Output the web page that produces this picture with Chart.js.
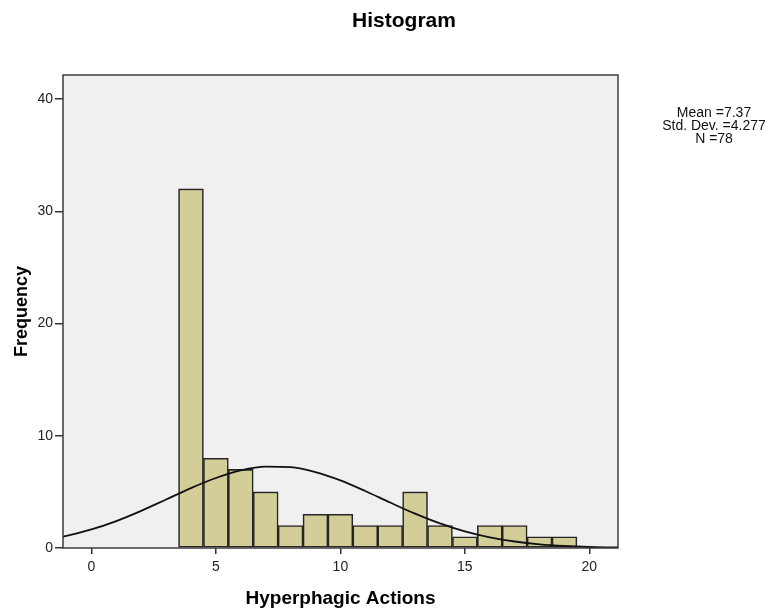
<!DOCTYPE html>
<html>
<head>
<meta charset="utf-8">
<script src="https://cdn.jsdelivr.net/npm/chart.js@4.4.1/dist/chart.umd.min.js"></script>
<style>
  html, body { margin: 0; padding: 0; background: #ffffff; }
  #wrap { width: 771px; height: 612px; }
</style>
</head>
<body>
<div id="wrap"><canvas id="histChart" width="771" height="612"></canvas></div>
<script>
// Histogram data (bins of width 1, centred on the integers)
var binCenters = [4, 5, 6, 7, 8, 9, 10, 11, 12, 13, 14, 15, 16, 17, 18, 19];
var binCounts  = [32, 8, 7, 5, 2, 3, 3, 2, 2, 5, 2, 1, 2, 2, 1, 1];

// Normal curve
var curveX = [-1.5, -1, 0, 1, 2, 3, 4, 5, 6, 7, 8, 9, 10, 11, 12, 13, 14, 15, 16, 17, 18, 19, 20, 21, 21.5];
var curveY = [0.85, 1.07, 1.65, 2.40, 3.31, 4.32, 5.34, 6.24, 6.92, 7.25, 7.20, 6.77, 6.03, 5.08, 4.05, 3.06, 2.19, 1.48, 0.95, 0.58, 0.33, 0.18, 0.09, 0.05, 0.03];

var statLines = ["Mean =7.37", "Std. Dev. =4.277", "N =78"];
var chartTitle = "Histogram";
var xTitle = "Hyperphagic Actions";
var yTitle = "Frequency";

var FONT = '"Liberation Sans", Arial, sans-serif';

// Plot background, frame, title and the stats box
var spssDecor = {
  id: 'spssDecor',
  beforeDraw: function(chart) {
    var a = chart.chartArea, ctx = chart.ctx;
    ctx.save();
    ctx.fillStyle = '#f0f0f0';
    ctx.fillRect(a.left, a.top, a.right - a.left, a.bottom - a.top);
    ctx.restore();
  },
  afterDraw: function(chart) {
    var a = chart.chartArea, ctx = chart.ctx;
    ctx.save();
    ctx.strokeStyle = '#3c3c3c';
    ctx.lineWidth = 1.5;
    ctx.strokeRect(a.left, a.top, a.right - a.left, a.bottom - a.top);

    ctx.fillStyle = '#000';
    ctx.textAlign = 'center';
    ctx.textBaseline = 'middle';
    ctx.font = 'bold 21px ' + FONT;
    ctx.fillText(chartTitle, 404, 21);

    // stats box
    ctx.font = '14px ' + FONT;
    ctx.fillStyle = '#111';
    ctx.textBaseline = 'alphabetic';
    for (var i = 0; i < statLines.length; i++) {
      ctx.fillText(statLines[i], 714, 117 + i * 13);
    }
    ctx.restore();
  }
};

var ctx = document.getElementById('histChart');
new Chart(ctx, {
  data: {
    datasets: [{
      type: 'line',
      label: 'Normal',
      data: curveX.map(function(x, i) { return { x: x, y: curveY[i] }; }),
      borderColor: '#111',
      borderWidth: 1.8,
      pointRadius: 0,
      fill: false,
      cubicInterpolationMode: 'monotone',
      order: 0
    }, {
      type: 'bar',
      label: 'Frequency',
      data: binCenters.map(function(x, i) { return { x: x, y: binCounts[i] }; }),
      backgroundColor: '#d3ce97',
      borderColor: '#262626',
      borderWidth: 1.6,
      borderSkipped: false,
      barPercentage: 1,
      categoryPercentage: 1,
      order: 1
    }]
  },
  options: {
    responsive: false,
    animation: false,
    layout: { padding: { top: 75, right: 153, left: 0, bottom: 0 } },
    plugins: {
      legend: { display: false },
      tooltip: { enabled: false },
      title: { display: false }
    },
    scales: {
      x: {
        type: 'linear',
        offset: false,
        min: -1.14,
        max: 21.15,
        afterFit: function(s) { s.height = 64; },
        grid: { display: true, offset: false, drawOnChartArea: false, drawTicks: true, tickLength: 6, color: '#333', lineWidth: 1.5 },
        border: { display: false },
        ticks: {
          stepSize: 5,
          includeBounds: false,
          padding: 5,
          color: '#222',
          font: { family: FONT, size: 14 },
          maxRotation: 0
        },
        title: {
          display: true,
          text: xTitle,
          color: '#000',
          font: { family: FONT, size: 19, weight: 'bold' },
          padding: { top: 0, bottom: 2 }
        }
      },
      y: {
        type: 'linear',
        min: 0,
        max: 42.15,
        afterFit: function(s) { s.width = 63; },
        grid: { display: true, drawOnChartArea: false, drawTicks: true, tickLength: 8, color: '#333', lineWidth: 1.5 },
        border: { display: false },
        ticks: {
          stepSize: 10,
          includeBounds: false,
          padding: 2,
          color: '#222',
          font: { family: FONT, size: 14 }
        },
        title: {
          display: true,
          text: yTitle,
          color: '#000',
          font: { family: FONT, size: 18, weight: 'bold' },
          padding: { top: 11, bottom: 0 }
        }
      }
    }
  },
  plugins: [spssDecor]
});
</script>
</body>
</html>
